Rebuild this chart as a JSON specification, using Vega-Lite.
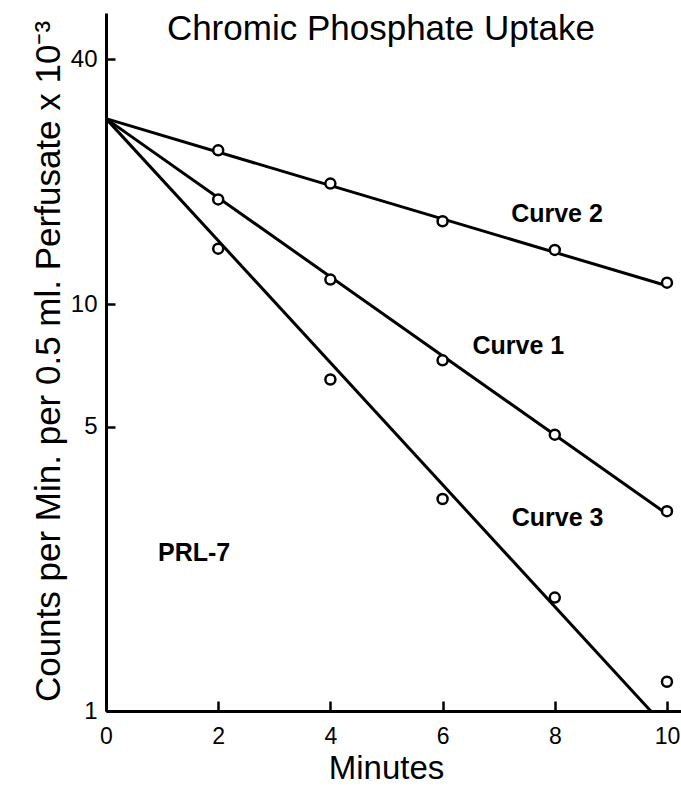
{
  "$schema": "https://vega.github.io/schema/vega-lite/v6.json",
  "width": 575,
  "height": 698,
  "autosize": "none",
  "padding": {"left": 106, "top": 13, "right": 0, "bottom": 75},
  "background": "white",
  "config": {"view": {"stroke": null}, "font": "Liberation Sans"},
  "datasets": {
    "points": [
      {"series": "Curve 1", "minutes": 2, "counts": 18.1},
      {"series": "Curve 1", "minutes": 4, "counts": 11.5},
      {"series": "Curve 1", "minutes": 6, "counts": 7.28},
      {"series": "Curve 1", "minutes": 8, "counts": 4.78},
      {"series": "Curve 1", "minutes": 10, "counts": 3.1},
      {"series": "Curve 2", "minutes": 2, "counts": 23.9},
      {"series": "Curve 2", "minutes": 4, "counts": 19.8},
      {"series": "Curve 2", "minutes": 6, "counts": 16.0},
      {"series": "Curve 2", "minutes": 8, "counts": 13.6},
      {"series": "Curve 2", "minutes": 10, "counts": 11.3},
      {"series": "Curve 3", "minutes": 2, "counts": 13.7},
      {"series": "Curve 3", "minutes": 4, "counts": 6.53},
      {"series": "Curve 3", "minutes": 6, "counts": 3.32},
      {"series": "Curve 3", "minutes": 8, "counts": 1.9},
      {"series": "Curve 3", "minutes": 10, "counts": 1.18}
    ],
    "lines": [
      {"series": "Curve 1", "minutes": 0, "counts": 28.6},
      {"series": "Curve 1", "minutes": 10, "counts": 3.05},
      {"series": "Curve 2", "minutes": 0, "counts": 28.6},
      {"series": "Curve 2", "minutes": 10, "counts": 11.1},
      {"series": "Curve 3", "minutes": 0, "counts": 28.6},
      {"series": "Curve 3", "minutes": 9.71, "counts": 1}
    ],
    "labels": [
      {"label": "Curve 2", "minutes": 8.04, "counts": 16.7},
      {"label": "Curve 1", "minutes": 7.35, "counts": 7.88},
      {"label": "Curve 3", "minutes": 8.05, "counts": 2.99},
      {"label": "PRL-7", "minutes": 1.57, "counts": 2.44}
    ],
    "title": [
      {"label": "Chromic Phosphate Uptake", "minutes": 4.9, "counts": 47.6}
    ]
  },
  "encoding": {
    "x": {
      "field": "minutes",
      "type": "quantitative",
      "scale": {"domain": [0, 10.25], "nice": false, "zero": false},
      "axis": {
        "values": [0, 2, 4, 6, 8, 10],
        "title": "Minutes",
        "grid": false,
        "tickSize": -10,
        "tickWidth": 2.5,
        "tickColor": "black",
        "domainColor": "black",
        "domainWidth": 3,
        "labelFontSize": 23,
        "labelColor": "black",
        "labelPadding": 24,
        "labelFlush": false,
        "titleFontSize": 33,
        "titleFontWeight": "normal",
        "titleColor": "black",
        "titleBaseline": "alphabetic",
        "titleAlign": "center",
        "titleX": 280,
        "titleY": 67
      }
    },
    "y": {
      "field": "counts",
      "type": "quantitative",
      "scale": {"type": "log", "domain": [1, 52], "nice": false},
      "axis": {
        "values": [1, 5, 10, 40],
        "format": "d",
        "title": "Counts per Min. per 0.5 ml. Perfusate x 10⁻³",
        "grid": false,
        "tickSize": -9,
        "tickWidth": 2.5,
        "tickColor": "black",
        "domainColor": "black",
        "domainWidth": 3,
        "labelFontSize": 24,
        "labelColor": "black",
        "labelPadding": 18,
        "labelFlush": false,
        "titleFontSize": 35,
        "titleFontWeight": "normal",
        "titleColor": "black",
        "titleAngle": 270,
        "titleBaseline": "alphabetic",
        "titleAlign": "center",
        "titleX": -47,
        "titleY": 348
      }
    }
  },
  "layer": [
    {
      "data": {"name": "lines"},
      "mark": {"type": "line", "color": "black", "strokeWidth": 3},
      "encoding": {"detail": {"field": "series"}}
    },
    {
      "data": {"name": "points"},
      "mark": {"type": "point", "shape": "circle", "size": 100, "filled": true, "fill": "white", "stroke": "black", "strokeWidth": 2.5, "opacity": 1}
    },
    {
      "data": {"name": "labels"},
      "mark": {"type": "text", "fontSize": 25, "fontWeight": "bold", "color": "black", "align": "center", "baseline": "middle"},
      "encoding": {"text": {"field": "label"}}
    },
    {
      "data": {"name": "title"},
      "mark": {"type": "text", "fontSize": 35, "color": "black", "align": "center", "baseline": "middle"},
      "encoding": {"text": {"field": "label"}}
    }
  ]
}
